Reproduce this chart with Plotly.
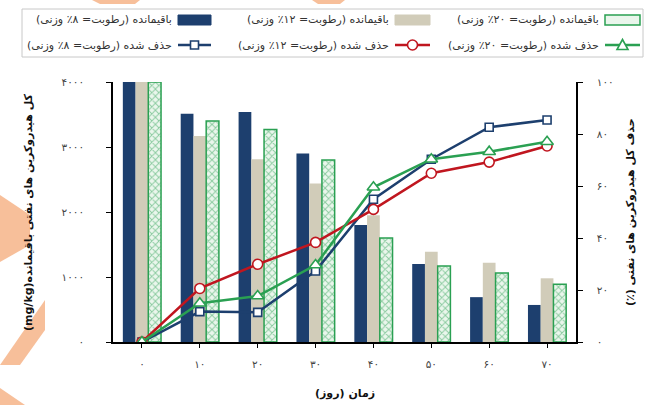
import plotly.graph_objects as go

# ---- data -------------------------------------------------------------
days = ["۰", "۱۰", "۲۰", "۳۰", "۴۰", "۵۰", "۶۰", "۷۰"]

# residual TPH (mg/kg) at 8%, 12%, 20% moisture
residual_8 = [4000, 3510, 3540, 2900, 1800, 1200, 690, 570]
residual_12 = [4000, 3170, 2810, 2440, 1950, 1390, 1220, 980]
residual_20 = [4000, 3400, 3270, 2800, 1600, 1170, 1060, 890]

# TPH removal (%) at 8%, 12%, 20% moisture
removal_8 = [0, 11.7, 11.4, 27.3, 54.9, 70.3, 82.6, 85.4]
removal_12 = [0, 20.6, 29.9, 38.3, 51.0, 64.9, 69.2, 75.4]
removal_20 = [0, 14.9, 17.7, 29.6, 59.5, 70.3, 73.2, 77.0]

left_ticks = [0, 1000, 2000, 3000, 4000]
left_ticktext = ["۰", "۱۰۰۰", "۲۰۰۰", "۳۰۰۰", "۴۰۰۰"]
right_ticks = [0, 20, 40, 60, 80, 100]
right_ticktext = ["۰", "۲۰", "۴۰", "۶۰", "۸۰", "۱۰۰"]

RLE, PDF = "\u202b", "\u202c"


def rtl(s):
    return RLE + s + PDF


res_names = ["باقیمانده (رطوبت= ۸٪ وزنی)", "باقیمانده (رطوبت= ۱۲٪ وزنی)",
             "باقیمانده (رطوبت= ۲۰٪ وزنی)"]
rem_names = ["حذف شده (رطوبت= ۸٪ وزنی)", "حذف شده (رطوبت= ۱۲٪ وزنی)",
             "حذف شده (رطوبت= ۲۰٪ وزنی)"]
x_title = "زمان (روز)"
y_title = "کل هیدروکربن های نفتی باقیمانده(mg/kg)"
y2_title = "حذف کل هیدروکربن های نفتی (٪)"

# ---- styling ----------------------------------------------------------
NAVY = "#1d3f6e"
BEIGE = "#d1ccb9"
GREEN = "#2aa052"
PALE_GREEN = "#eaf6ec"
RED = "#c0161f"
FONT = "DejaVu Sans"

W, H = 651, 405
L, R, T, B = 113, 75, 82, 63
PW, PH = W - L - R, H - T - B


def xp(px):
    return (px - L) / PW


def yp(py):
    return (H - B - py) / PH


fig = go.Figure()

fig.add_bar(x=days, y=residual_8, marker=dict(color=NAVY, line=dict(width=0)),
            name=res_names[0], showlegend=False)
fig.add_bar(x=days, y=residual_12, marker=dict(color=BEIGE, line=dict(width=0)),
            name=res_names[1], showlegend=False)
fig.add_bar(x=days, y=residual_20,
            marker=dict(color=PALE_GREEN, line=dict(color=GREEN, width=1.5),
                        pattern=dict(shape="x", fgcolor=GREEN, bgcolor=PALE_GREEN,
                                     size=5, solidity=0.35)),
            name=res_names[2], showlegend=False)

line_specs = [
    (removal_8, NAVY, "square", 8),
    (removal_12, RED, "circle", 10),
    (removal_20, GREEN, "triangle-up", 11),
]
for (vals, col, sym, size), nm in zip(line_specs, rem_names):
    fig.add_scatter(x=days, y=vals, yaxis="y2", mode="lines+markers", name=nm,
                    line=dict(color=col, width=2.5),
                    marker=dict(symbol=sym, size=size, color="white",
                                line=dict(color=col, width=1.6)),
                    showlegend=False)

# ---- legend box drawn in two rows, symbol to the right of each label -----
shapes = []
annotations = []
shapes.append(dict(type="rect", xref="paper", yref="paper", x0=xp(22), x1=xp(643),
                   y0=yp(57), y1=yp(9), line=dict(color="#c8c8c8", width=1),
                   fillcolor="white", layer="below"))

sym_x = [(178, 211), (395, 430), (605, 640)]
row1_y, row2_y = 20, 45
legend_font = dict(family=FONT, size=11, color="#333")
bar_styles = [dict(fillcolor=NAVY, line=dict(color=NAVY, width=1)),
              dict(fillcolor=BEIGE, line=dict(color=BEIGE, width=1)),
              dict(fillcolor=PALE_GREEN, line=dict(color=GREEN, width=1.5))]
for i, (x0, x1) in enumerate(sym_x):
    shapes.append(dict(type="rect", xref="paper", yref="paper", x0=xp(x0), x1=xp(x1),
                       y0=yp(row1_y + 5), y1=yp(row1_y - 5), **bar_styles[i]))
    annotations.append(dict(xref="paper", yref="paper", x=xp(x0 - 4), y=yp(row1_y),
                            text=rtl(res_names[i]), showarrow=False, xanchor="right",
                            yanchor="middle", font=legend_font))
    col = line_specs[i][1]
    shapes.append(dict(type="line", xref="paper", yref="paper", x0=xp(x0), x1=xp(x1),
                       y0=yp(row2_y), y1=yp(row2_y), line=dict(color=col, width=2.5)))
    cx = (x0 + x1) / 2
    if i == 0:
        shapes.append(dict(type="rect", xref="paper", yref="paper", x0=xp(cx - 4), x1=xp(cx + 4),
                           y0=yp(row2_y + 4), y1=yp(row2_y - 4), fillcolor="white",
                           line=dict(color=col, width=1.6)))
    elif i == 1:
        shapes.append(dict(type="circle", xref="paper", yref="paper", x0=xp(cx - 5), x1=xp(cx + 5),
                           y0=yp(row2_y + 5), y1=yp(row2_y - 5), fillcolor="white",
                           line=dict(color=col, width=1.6)))
    else:
        path = "M {} {} L {} {} L {} {} Z".format(xp(cx - 5.5), yp(row2_y + 4.5), xp(cx + 5.5),
                                                  yp(row2_y + 4.5), xp(cx), yp(row2_y - 5.5))
        shapes.append(dict(type="path", xref="paper", yref="paper", path=path,
                           fillcolor="white", line=dict(color=col, width=1.6)))
    annotations.append(dict(xref="paper", yref="paper", x=xp(x0 - 4), y=yp(row2_y),
                            text=rtl(rem_names[i]), showarrow=False, xanchor="right",
                            yanchor="middle", font=legend_font))

# ---- axis titles --------------------------------------------------------
title_font = dict(family=FONT, size=11, color="#111")
annotations.append(dict(xref="paper", yref="paper", x=xp(345), y=yp(393),
                        text="<b>" + rtl(x_title) + "</b>", showarrow=False,
                        xanchor="center", yanchor="middle", font=title_font))
annotations.append(dict(xref="paper", yref="paper", x=xp(28), y=yp(212),
                        text="<b>" + rtl(y_title) + "</b>", showarrow=False, textangle=-90,
                        xanchor="center", yanchor="middle", font=title_font))
annotations.append(dict(xref="paper", yref="paper", x=xp(630), y=yp(212),
                        text="<b>" + rtl(y2_title) + "</b>", showarrow=False, textangle=-90,
                        xanchor="center", yanchor="middle", font=title_font))

# faint orange decorations along the page edges
ORANGE = "rgba(244,170,120,0.75)"
for pts in [[(0, 195), (30, 215), (30, 245), (0, 262)],
            [(0, 365), (45, 300), (45, 330), (20, 365)],
            [(0, 388), (25, 405), (0, 405)],
            [(92, 0), (140, 0), (135, 4), (100, 4)],
            [(312, 0), (345, 0), (340, 4), (318, 4)]]:
    path = "M " + " L ".join("{} {}".format(xp(a), yp(b)) for a, b in pts) + " Z"
    shapes.append(dict(type="path", xref="paper", yref="paper", path=path,
                       fillcolor=ORANGE, line=dict(width=0), layer="below"))

axis_font = dict(family=FONT, size=10.5, color="#444")

fig.update_layout(
    width=W, height=H,
    margin=dict(l=L, r=R, t=T, b=B, autoexpand=False),
    paper_bgcolor="white", plot_bgcolor="white",
    barmode="group", bargap=0.34, bargroupgap=0,
    showlegend=False,
    font=dict(family=FONT),
    shapes=shapes,
    annotations=annotations,
    xaxis=dict(type="category", range=[-0.5, 7.5], showline=True, linecolor="black",
               linewidth=1.5, ticks="outside", ticklen=4, tickcolor="black",
               tickfont=axis_font, showgrid=False, ticklabelstandoff=8, automargin=False),
    yaxis=dict(range=[0, 4000], tickvals=left_ticks, ticktext=left_ticktext,
               showline=True, linecolor="black", linewidth=1.5, ticks="outside",
               ticklen=5, tickcolor="black", tickfont=axis_font, showgrid=False,
               zeroline=False, ticklabelstandoff=20, automargin=False),
    yaxis2=dict(range=[0, 100], overlaying="y", side="right", tickvals=right_ticks,
                ticktext=right_ticktext, showline=True, linecolor="black", linewidth=1.5,
                ticks="outside", ticklen=5, tickcolor="black", tickfont=axis_font,
                showgrid=False, zeroline=False, ticklabelstandoff=12, automargin=False),
)

fig.write_html("out.html")
